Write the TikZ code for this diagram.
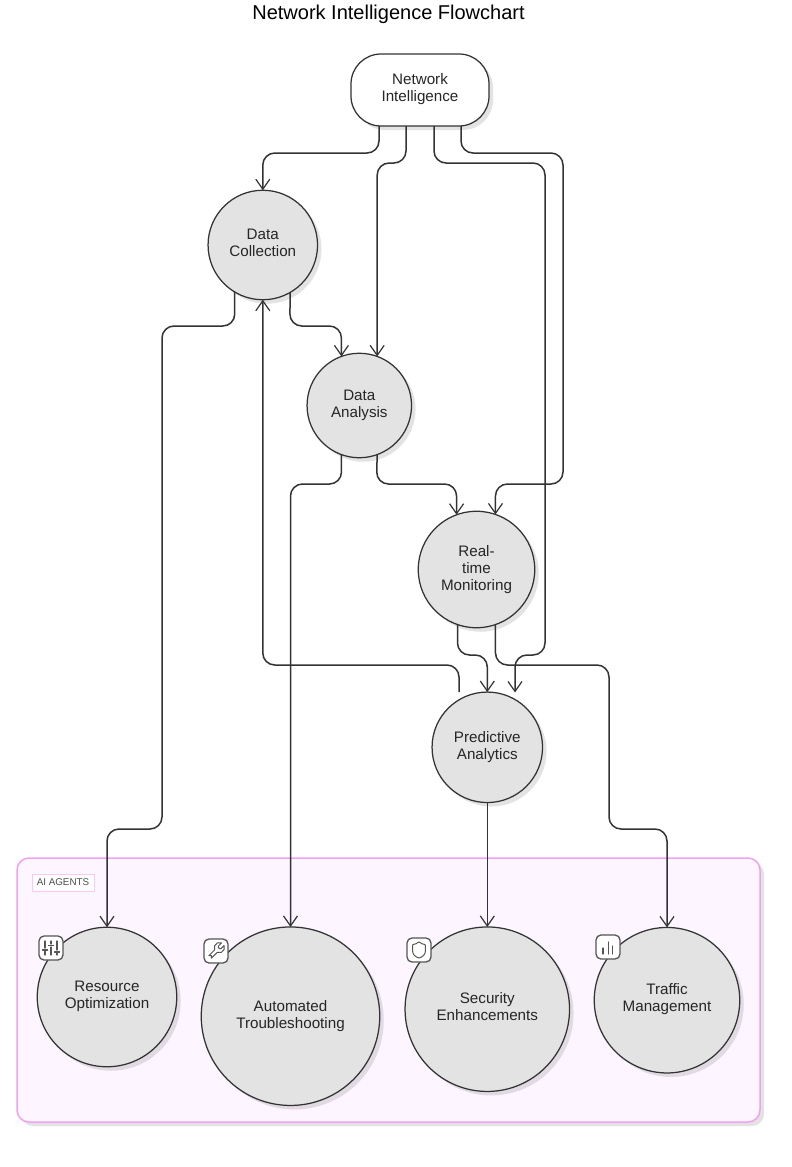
\documentclass[tikz,border=0pt]{standalone}
\usepackage{fontspec}
\setmainfont{Liberation Sans}
\usetikzlibrary{arrows.meta,shadows,calc,svg.path}
\definecolor{ink}{HTML}{333333}
\definecolor{nodefill}{HTML}{E3E3E3}
\definecolor{grpline}{HTML}{F2A0F2}
\definecolor{grpfill}{HTML}{FDF5FF}
\definecolor{lblline}{HTML}{F8C8F8}
\definecolor{iconink}{HTML}{555555}
\newcommand{\liftup}[1]{\\[#1]\mbox{}}
\tikzset{
  softshadow/.style={drop shadow={shadow xshift=4pt,shadow yshift=-4pt,fill=black,opacity=.11}},
  circ/.style={circle,draw=ink,line width=1.25pt,fill=nodefill,inner sep=0pt,outer sep=0pt,
    align=center,font=\fontsize{15.2}{17}\selectfont,text=black!85,softshadow},
  flow/.style={draw=ink,line width=1.5pt,rounded corners=12pt,
    -{Straight Barb[length=10pt,width=14pt,line width=1.2pt]}},
  badge/.style={draw=iconink,line width=1.3pt,fill=white,rounded corners=5pt,
    minimum size=24pt,inner sep=0pt,outer sep=0pt},
  icon/.style={draw=iconink,line width=1.1pt,line cap=round,line join=round},
}
\begin{document}
\begin{tikzpicture}[x=1pt,y=-1pt]
\useasboundingbox (0,0) rectangle (792,1167);
\fill[white] (0,0) rectangle (792,1167);

\node[font=\fontsize{20}{22}\selectfont,text=black] (title) at (388.5,14) {Network Intelligence Flowchart};

\node[draw=grpline,line width=1.5pt,fill=grpfill,rounded corners=12pt,minimum width=743pt,
  minimum height=264pt,inner sep=0pt,softshadow] (group) at (388.5,990) {};
\node[draw=lblline,line width=.8pt,fill=white,minimum width=62pt,minimum height=17pt,inner sep=0pt,
  font=\fontsize{9.8}{11}\selectfont,text=black!70] (grouplabel) at (63,882.5) {AI AGENTS};

\node[draw=ink,line width=1.25pt,fill=white,rounded corners=30pt,minimum width=138pt,minimum height=72pt,
  inner sep=0pt,outer sep=0pt,align=center,font=\fontsize{15.2}{17}\selectfont,text=black!85,softshadow]
  (ni) at (420,90) {Network\\Intelligence\liftup{-12pt}};
\node[circ,minimum size=109.5pt] (dc) at (262.8,245) {Data\\Collection\liftup{-12pt}};
\node[circ,minimum size=104.5pt] (da) at (359.3,405.5) {Data\\Analysis};
\node[circ,minimum size=116.5pt] (rt) at (476.5,569.5) {Real-\\time\\Monitoring};
\node[circ,minimum size=110.5pt] (pa) at (487.3,747.3) {Predictive\\Analytics};
\node[circ,minimum size=139.5pt] (ro) at (107,997) {Resource\\Optimization\liftup{-12pt}};
\node[circ,minimum size=178.5pt] (at) at (290.5,1016.2) {Automated\\Troubleshooting};
\node[circ,minimum size=164.5pt] (se) at (487.3,1009.2) {Security\\Enhancements\liftup{-12pt}};
\node[circ,minimum size=145.5pt] (tm) at (667,1000.2) {Traffic\\Management\liftup{-12pt}};

\coordinate (paL) at (515,692.5);
\coordinate (paO) at (459,692);

\draw[flow] ($(ni.south)+(-41,0)$) -- ++(0,27) -| (dc.north);
\draw[flow] ($(ni.south)+(-14,0)$) -- ++(0,37) -| (da.70);
\draw[flow] ($(ni.south)+(14,0)$) -- ++(0,37) -- (545,163) -- (545,655) -| (paL);
\draw[flow] ($(ni.south)+(41,0)$) -- ++(0,27) -- (563,153) -- (563,484) -| (rt.71);
\draw[flow] (dc.-60) -- (289.8,326) -| (da.110);
\draw[flow] (dc.239) -- (234.8,326) -- (162,326) -- (162,829) -| (ro.north);
\draw[flow] (da.-70) -- (376.5,484) -| (rt.110);
\draw[flow] (da.250) -- (341.5,484) -| (at.north);
\draw[flow] (rt.251) -- (457.5,655) -| (pa.north);
\draw[flow] (rt.-71) -- (495.5,665) -- (609,665) -- (609,829) -| (tm.north);
\draw[flow] (paO) -- (459,665) -| (dc.south);
\draw[flow] (pa.south) -- (se.north);

% sliders badge
\node[badge] (b1) at (51,948) {};
\draw[icon] (45,941)--(45,948) (45,951)--(45,955) (42.5,950)--(47.5,950)
  (51,941)--(51,944) (51,947)--(51,955) (48.5,945.5)--(53.5,945.5)
  (57,941)--(57,950) (57,953)--(57,955) (54.5,952)--(59.5,952);
% wrench badge
\node[badge] (b2) at (216,951) {};
\begin{scope}[shift={(216,951)},xscale=.85,yscale=-.85,shift={(-12pt,-12pt)}]
\draw[icon,line width=1pt] svg {M14.7 6.3a1 1 0 0 0 0 1.4l1.6 1.6a1 1 0 0 0 1.4 0l3.77-3.77a6 6 0 0 1-7.94 7.94l-6.91 6.91a2.12 2.12 0 0 1-3-3l6.91-6.91a6 6 0 0 1 7.94-7.94l-3.76 3.76z};
\end{scope}
% shield badge
\node[badge] (b3) at (419,950) {};
\begin{scope}[shift={(419,950)},xscale=.8,yscale=-.8,shift={(-12pt,-12pt)}]
\draw[icon,line width=1pt] svg {M20 13c0 5-3.5 7.5-7.66 8.95a1 1 0 0 1-.67-.01C7.5 20.5 4 18 4 13V6a1 1 0 0 1 1-1c2 0 4.5-1.2 6.24-2.72a1.17 1.17 0 0 1 1.52 0C14.51 3.81 17 5 19 5a1 1 0 0 1 1 1z};
\end{scope}
% chart badge
\node[badge] (b4) at (608,947) {};
\draw[icon] (603,948)--(603,954) (608.3,942)--(608.3,954) (612.7,946)--(612.7,954);
\end{tikzpicture}
\end{document}
